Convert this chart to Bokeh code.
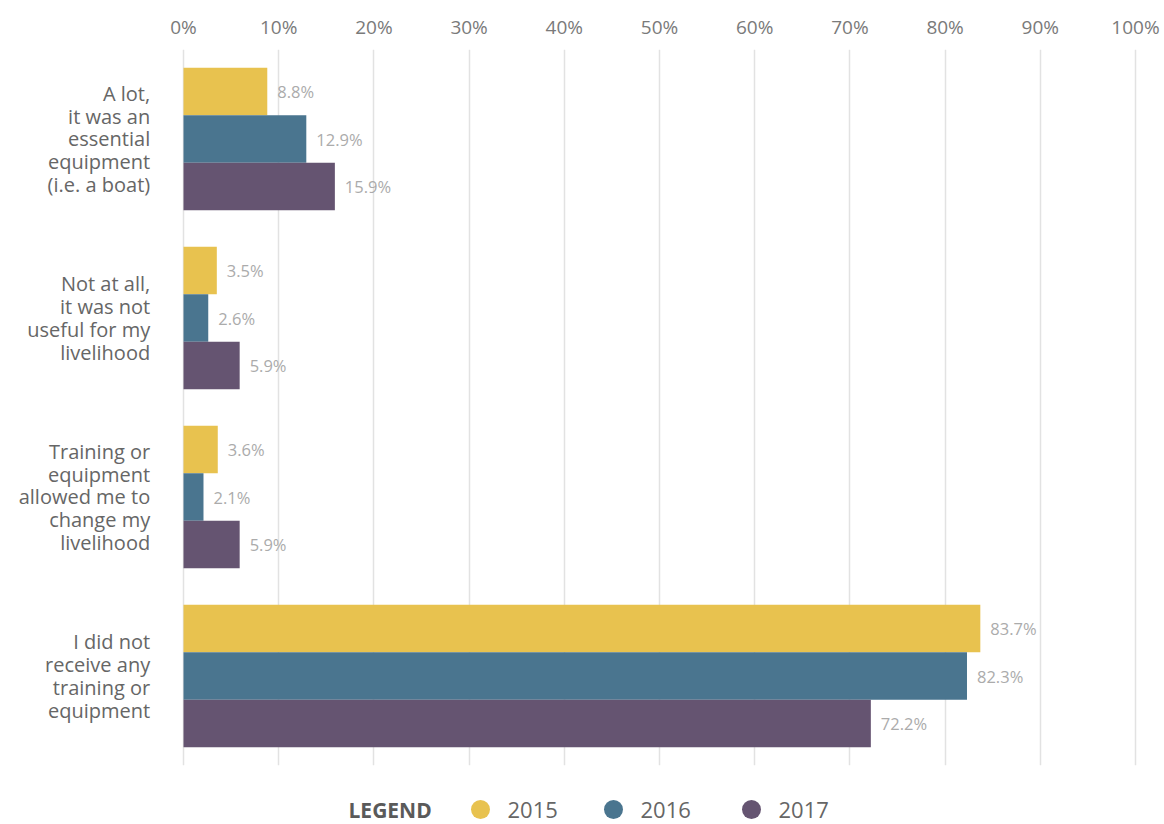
from bokeh.plotting import figure
from bokeh.layouts import column
from bokeh.models import Range1d, FixedTicker, PrintfTickFormatter, ColumnDataSource
from bokeh.core.properties import value
from bokeh.embed import file_html
from bokeh.resources import INLINE

categories = [
    "A lot,\nit was an\nessential\nequipment\n(i.e. a boat)",
    "Not at all,\nit was not\nuseful for my\nlivelihood",
    "Training or\nequipment\nallowed me to\nchange my\nlivelihood",
    "I did not\nreceive any\ntraining or\nequipment",
]
years = ["2015", "2016", "2017"]
v2015 = [8.8, 3.5, 3.6, 83.7]
v2016 = [12.9, 2.6, 2.1, 82.3]
v2017 = [15.9, 5.9, 5.9, 72.2]
series = [v2015, v2016, v2017]
colors = ["#E8C24F", "#4A758F", "#655471"]
ticks = list(range(0, 101, 10))

FONT = "Open Sans"
W = 1164
pxper = 9.52
x0 = -183 / pxper
x1 = (W - 183) / pxper

p = figure(width=W, height=770, x_range=Range1d(x0, x1), y_range=Range1d(4, 0),
           x_axis_location="above", y_axis_location=None,
           toolbar_location=None, output_backend="svg",
           min_border_left=0, min_border_right=0, min_border_top=49, min_border_bottom=5)
p.outline_line_color = None
p.ygrid.grid_line_color = None
p.xgrid.grid_line_color = "#e2e2e2"
p.xgrid.grid_line_width = 1.5
p.xaxis.ticker = FixedTicker(ticks=ticks)
p.xaxis.formatter = PrintfTickFormatter(format="%d%%")
p.xaxis.axis_line_color = None
p.xaxis.major_tick_line_color = None
p.xaxis.minor_tick_line_color = None
p.xaxis.major_tick_out = 0
p.xaxis.major_tick_in = 0
p.xaxis.major_label_standoff = 10
p.xaxis.major_label_text_font = FONT
p.xaxis.major_label_text_font_size = "19px"
p.xaxis.major_label_text_color = "#7a7a7a"

bar_h = 0.265
offsets = [-bar_h, 0.0, bar_h]
for vals, col, off in zip(series, colors, offsets):
    ys = [i + 0.5 + off for i in range(len(categories))]
    src = ColumnDataSource(dict(y=ys, v=vals, lab=[f"{x:.1f}%" for x in vals]))
    p.hbar(y="y", right="v", left=0, height=bar_h, source=src, fill_color=col, line_color=None)
    p.text(x="v", y="y", text="lab", source=src, x_offset=10, text_baseline="middle",
           text_align="left", text_font=value(FONT), text_font_size="16.5px", text_color="#ababab")

csrc = ColumnDataSource(dict(x=[-3.5] * len(categories), y=[i + 0.5 for i in range(len(categories))], t=categories))
p.text(x="x", y="y", text="t", source=csrc, text_align="right", text_baseline="middle",
       text_font=value(FONT), text_font_size="20px", text_color="#666666", text_line_height=0.85)

# legend strip
LH = 52
lg = figure(width=W, height=LH, x_range=Range1d(0, W), y_range=Range1d(0, LH),
            toolbar_location=None, output_backend="svg",
            min_border_left=0, min_border_right=0, min_border_top=0, min_border_bottom=0)
lg.axis.visible = False
lg.grid.visible = False
lg.outline_line_color = None
ly = 13
lg.text(x=[348], y=[ly], text=["LEGEND"], text_baseline="middle", text_align="left",
        text_font=value(FONT), text_font_size="21px", text_font_style="bold", text_color="#5a5a5a")
mx = [480, 613, 751]
lg.scatter(x=mx, y=[ly] * 3, size=19, marker="circle", fill_color=colors, line_color=None)
lg.text(x=[m + 27 for m in mx], y=[ly] * 3, text=years, text_baseline="middle", text_align="left",
        text_font=value(FONT), text_font_size="22px", text_color="#666666")

layout = column(p, lg, spacing=0)
open("out.html", "w").write(file_html(layout, INLINE))
